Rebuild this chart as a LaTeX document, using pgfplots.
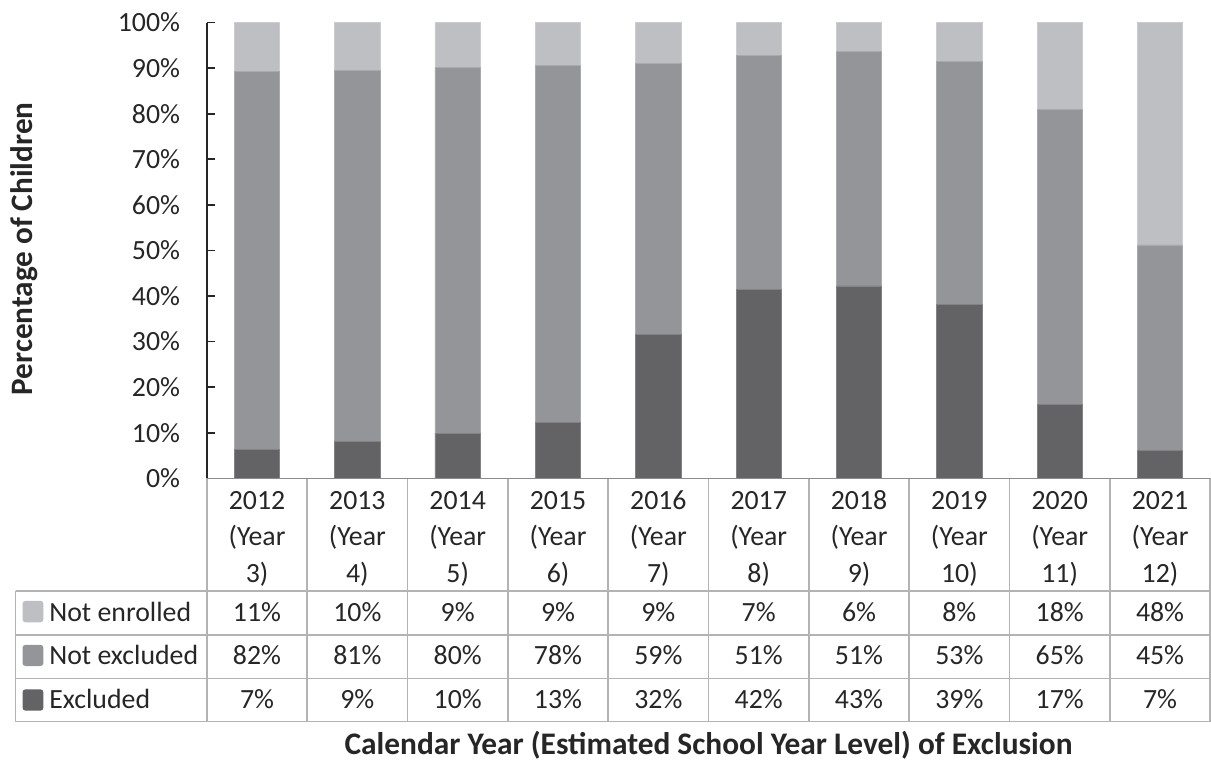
\documentclass[border=0pt]{standalone}
\usepackage{pgfplots}
\pgfplotsset{compat=1.18}
\usepackage{pgfplotstable}
\usepackage{fontspec}
\setmainfont{Carlito}
\definecolor{cExc}{HTML}{636365}
\definecolor{cNex}{HTML}{949599}
\definecolor{cNen}{HTML}{BEBFC3}
\definecolor{gridc}{HTML}{B3B3B3}
\definecolor{xaxc}{HTML}{8C8C8C}
\definecolor{txt}{HTML}{262626}

\pgfplotstableread{
x exc nex nen
0 6.4 82.9 10.7
1 8.0 81.5 10.5
2 9.9 80.2 9.9
3 12.3 78.3 9.4
4 31.5 59.5 9.0
5 41.5 51.2 7.3
6 42.2 51.5 6.3
7 38.1 53.4 8.5
8 16.3 64.7 19.0
9 6.2 45.0 48.8
}\data

\newcommand\col[6]{%
  \node[anchor=base, yshift=-15.5pt] at (axis cs:#1,0) {#2};
  \node[anchor=base, yshift=-34pt] at (axis cs:#1,0) {(Year};
  \node[anchor=base, yshift=-52.5pt] at (axis cs:#1,0) {#3)};
  \node[anchor=base, yshift=-72pt] at (axis cs:#1,0) {#4\%};
  \node[anchor=base, yshift=-93.8pt] at (axis cs:#1,0) {#5\%};
  \node[anchor=base, yshift=-115.8pt] at (axis cs:#1,0) {#6\%};
}

\begin{document}
\begin{tikzpicture}[font=\fontsize{14}{18.5}\selectfont, text=txt]
\begin{axis}[
  at={(0,0)}, anchor=south west,
  scale only axis, width=505.2pt, height=229.5pt,
  xmin=-0.5, xmax=9.5, ymin=0, ymax=100,
  ybar stacked, bar width=22.85pt,
  axis x line*=bottom, axis y line*=left,
  x axis line style={-, draw=xaxc, line width=0.8pt},
  y axis line style={-, draw=black!85, line width=0.8pt},
  xtick=\empty,
  ytick={0,10,...,100},
  yticklabel={\pgfmathprintnumber{\tick}\%},
  /pgf/number format/assume math mode=true,
  yticklabel style={anchor=east, inner sep=0pt, xshift=-13.3pt, text=txt},
  tick align=inside, major tick length=4pt,
  y tick style={draw=black!85, line width=0.8pt},
  clip=false,
]
\addplot[fill=cExc, draw=cExc!80!white, line width=0.4pt] table[x=x, y=exc] {\data};
\addplot[fill=cNex, draw=cNex!80!white, line width=0.4pt] table[x=x, y=nex] {\data};
\addplot[fill=cNen, draw=cNen!80!white, line width=0.4pt] table[x=x, y=nen] {\data};
\col{0}{2012}{3}{11}{82}{7}
\col{1}{2013}{4}{10}{81}{9}
\col{2}{2014}{5}{9}{80}{10}
\col{3}{2015}{6}{9}{78}{13}
\col{4}{2016}{7}{9}{59}{32}
\col{5}{2017}{8}{7}{51}{42}
\col{6}{2018}{9}{6}{51}{43}
\col{7}{2019}{10}{8}{53}{39}
\col{8}{2020}{11}{18}{65}{17}
\col{9}{2021}{12}{48}{45}{7}
\end{axis}
% table grid
\begin{scope}[draw=gridc, line width=0.8pt]
\foreach \k in {0,...,10} {\draw (\k*50.52pt,0) -- (\k*50.52pt,-122.5pt);}
\draw (-96.3pt,-56.65pt) -- (505.2pt,-56.65pt);
\draw (-96.3pt,-78.8pt) -- (505.2pt,-78.8pt);
\draw (-96.3pt,-100.8pt) -- (505.2pt,-100.8pt);
\draw (-96.3pt,-122.5pt) -- (505.2pt,-122.5pt);
\draw (-96.3pt,-56.65pt) -- (-96.3pt,-122.5pt);
\end{scope}
\draw[xaxc, line width=0.8pt] (0,0) -- (505.2pt,0);
% legend column
\fill[cNen, rounded corners=1.5pt] (-92.8pt,-61.65pt) rectangle (-82.3pt,-72.5pt);
\fill[cNex, rounded corners=1.5pt] (-92.8pt,-83.8pt) rectangle (-82.3pt,-94.5pt);
\fill[cExc, rounded corners=1.5pt] (-92.8pt,-106.2pt) rectangle (-82.3pt,-117pt);
\node[anchor=base west, inner sep=0pt] at (-79.5pt,-72pt) {Not enrolled};
\node[anchor=base west, inner sep=0pt] at (-79.5pt,-93.8pt) {Not excluded};
\node[anchor=base west, inner sep=0pt] at (-79.5pt,-115.8pt) {Excluded};
% titles
\node[anchor=base, inner sep=0pt, font=\fontsize{15.8}{19}\selectfont\bfseries] at (252.6pt,-139.15pt) {Calendar Year (Estimated School Year Level) of Exclusion};
\node[anchor=base, inner sep=0pt, rotate=90, font=\fontsize{15.7}{19}\selectfont\bfseries] at (-87.8pt,115.5pt) {Percentage of Children};
\path[use as bounding box] (-104.15pt,-142.65pt) rectangle (501.35pt,240.85pt);
\end{tikzpicture}
\end{document}
